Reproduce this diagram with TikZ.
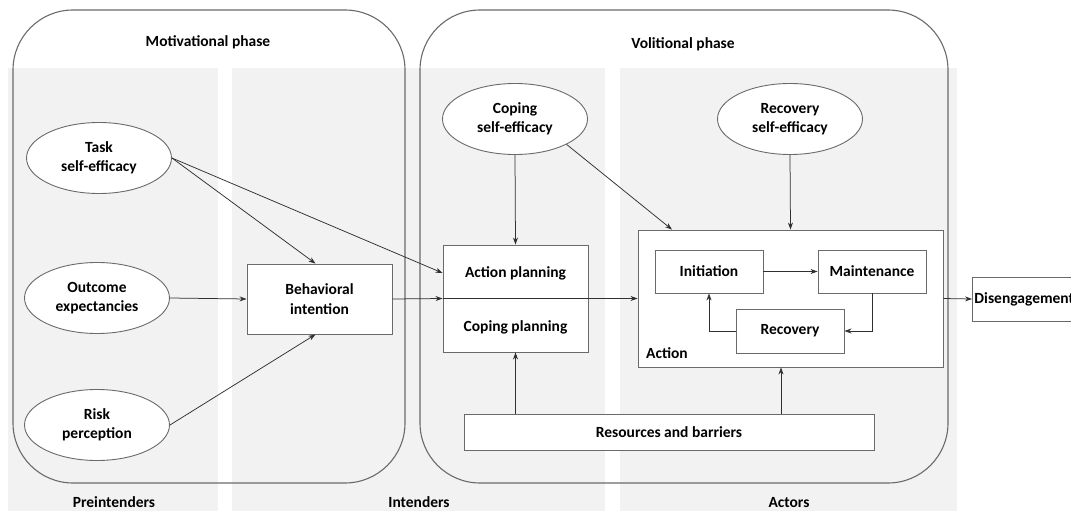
\documentclass[tikz,border=0pt]{standalone}
\usepackage{fontspec}
\setmainfont{Carlito}
\usetikzlibrary{arrows.meta,shapes.geometric,calc}
\definecolor{colbg}{HTML}{F2F2F2}
\definecolor{edgec}{HTML}{6A6A6A}
\definecolor{arrowc}{HTML}{303030}
\begin{document}
\begin{tikzpicture}[x=1pt,y=-1pt,
  every node/.style={font=\fontsize{15.5}{19.5}\selectfont\bfseries, text=black},
  colbox/.style={fill=colbg, draw=none},
  phase/.style={draw=edgec, line width=1.1pt, rounded corners=60pt},
  ell/.style={ellipse, draw=edgec, fill=white, line width=0.9pt, minimum width=145pt, minimum height=71pt, inner sep=0pt, align=center},
  box/.style={draw=edgec, fill=white, line width=0.9pt, inner sep=0pt, align=center},
  arr/.style={draw=arrowc, line width=0.75pt, -{Stealth[length=7pt,width=5pt]}},
  ln/.style={draw=arrowc, line width=0.75pt},
  lbl/.style={inner sep=0pt}
]
\useasboundingbox (0,0) rectangle (1071,511);
% background columns
\path[colbox] (8,68) rectangle (218,511);
\path[colbox] (232,68) rectangle (605,511);
\path[colbox] (620,68) rectangle (957,511);
% phase boxes
\draw[phase] (13,10) rectangle (405,483);
\draw[phase] (420,10) rectangle (948,483);
\node[lbl] (motiv) at (208,42) {Motivational phase};
\node[lbl] (volit) at (683,44) {Volitional phase};
\node[lbl, anchor=base] (pre) at (114,507.5) {Preintenders};
\node[lbl, anchor=base] (inte) at (419,507.5) {Intenders};
\node[lbl, anchor=base] (acto) at (789,507.5) {Actors};
% ellipses
\node[ell] (task) at (99,158) {Task\\self-efficacy};
\node[ell] (out) at (97,298) {Outcome\\expectancies};
\node[ell] (risk) at (97,425) {Risk\\perception};
\node[ell] (cse) at (515,119) {Coping\\self-efficacy};
\node[ell] (rse) at (790,119) {Recovery\\self-efficacy};
% boxes
\node[box, minimum width=145pt, minimum height=70pt] (bi) at (319.5,299) {Behavioral\\intention};
\node[box, minimum width=145pt, minimum height=107pt] (plan) at (515.5,298.5) {};
\node[lbl] (ap) at (515.5,273) {Action planning};
\node[lbl] (cp) at (515.5,327) {Coping planning};
\node[box, minimum width=305pt, minimum height=137pt] (action) at (790.5,298.5) {};
\node[lbl, anchor=base west] (actlbl) at (646,358) {Action};
\node[box, minimum width=108pt, minimum height=43pt] (ini) at (709,271.5) {Initiation};
\node[box, minimum width=108pt, minimum height=43pt] (main) at (872,271.5) {Maintenance};
\node[box, minimum width=108pt, minimum height=44pt] (rec) at (790,331) {Recovery};
\node[box, minimum width=410pt, minimum height=36pt] (rb) at (669,432) {Resources and barriers};
\node[box, minimum height=44pt, inner xsep=2pt, anchor=west] (dis) at (972,299) {Disengagement};
% connectors
\draw[arr] (task.east) -- ([xshift=-4pt]bi.north);
\draw[arr] (task.east) -- (plan.west |- ap);
\draw[arr] (out.east) -- (bi.west);
\draw[arr] (risk.east) -- ([xshift=-4pt]bi.south);
\draw[ln, line width=1.6pt] (plan.west) -- (plan.east);
\draw[arr] (bi.east) -- (plan.west);
\draw[arr] (plan.east) -- (action.west);
\draw[arr] (cse.south) -- (plan.north);
\draw[arr] (cse.south east) -- ([xshift=-118.5pt]action.north);
\draw[arr] (rse.south) -- (action.north);
\draw[arr] (ini.east) -- (main.west);
\draw[arr] (main.south) |- (rec.east);
\draw[arr] (rec.west) -| (ini.south);
\draw[arr] (rb.north -| plan.south) -- (plan.south);
\draw[arr] ([xshift=112pt]rb.north) -- ([xshift=112pt]rb.north |- action.south);
\draw[arr] (action.east) -- (dis.west);
\end{tikzpicture}
\end{document}
